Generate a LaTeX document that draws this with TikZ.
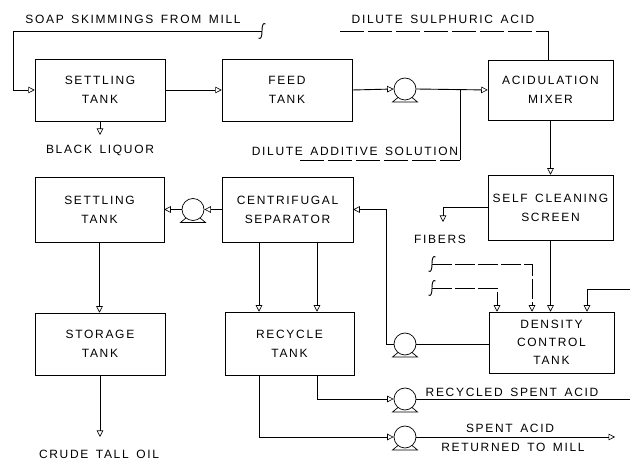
\documentclass[tikz,border=0pt]{standalone}
\usepackage{fontspec}
\setmainfont{Liberation Sans}
\newfontfamily\lbl[LetterSpace=14,WordSpace=1.5]{Liberation Sans}
\usetikzlibrary{arrows.meta,calc}
\begin{document}
\begin{tikzpicture}[x=1pt,y=-1pt,
  box/.style={draw,line width=0.5pt,inner sep=0pt,align=center,
    font=\lbl\fontsize{12}{19}\selectfont},
  txt/.style={inner sep=0pt,font=\lbl\fontsize{12}{19}\selectfont},
  pump/.style={circle,draw,line width=0.7pt,minimum size=22pt,inner sep=0pt},
  pipe/.style={line width=0.9pt},
  flow/.style={pipe,-{Triangle[open,length=6.5pt,width=6.5pt,line width=0.6pt]}},
  dsh/.style={dash pattern=on 24pt off 4pt},
  brk/.pic={\draw[line width=0.9pt] (3.5,-7) .. controls (1,-9) and (0,-5) .. (0,0) .. controls (0,5) and (-1,9) .. (-3.5,7);}
]
\useasboundingbox (0,0) rectangle (630,462);

% boxes
\node[box,minimum width=130pt,minimum height=62pt] (st1) at (100,90) {SETTLING\\TANK};
\node[box,minimum width=130pt,minimum height=62pt] (feed) at (287,90) {FEED\\TANK};
\node[box,minimum width=125pt,minimum height=60pt] (acid) at (550.5,90) {ACIDULATION\\MIXER};
\node[box,minimum width=129pt,minimum height=65pt] (st2) at (99.5,209.5) {SETTLING\\TANK};
\node[box,minimum width=131pt,minimum height=65pt] (cent) at (287.5,209.5) {CENTRIFUGAL\\SEPARATOR};
\node[box,minimum width=125pt,minimum height=65pt] (screen) at (550.5,207.5) {SELF CLEANING\\SCREEN};
\node[box,minimum width=130pt,minimum height=62pt] (stor) at (100,344) {STORAGE\\TANK};
\node[box,minimum width=129pt,minimum height=63pt] (rec) at (289.5,343.5) {RECYCLE\\TANK};
\node[box,minimum width=125pt,minimum height=61pt,font=\lbl\fontsize{12}{18}\selectfont] (dens) at (551.5,342.5) {DENSITY\\CONTROL\\TANK};

% pumps
\node[pump] (p1) at (405,89) {};
\node[pump] (p2) at (193,209.5) {};
\node[pump] (p3) at (405,344) {};
\node[pump] (p4) at (405,399) {};
\node[pump] (p5) at (405,437) {};
\foreach \p in {p1,p2,p3,p4,p5}
  \draw[line width=0.7pt] ($(\p.center)+(-7,8.5)$) -- ($(\p.center)+(-12.5,13)$) -- ($(\p.center)+(12.5,13)$) -- ($(\p.center)+(7,8.5)$);

% texts
\node[txt] (tsoap) at (133,19) {SOAP SKIMMINGS FROM MILL};
\node[txt] (tsul) at (443,19) {DILUTE SULPHURIC ACID};
\node[txt] (tadd) at (355,151) {DILUTE ADDITIVE SOLUTION};
\node[txt] (tbl) at (100,150) {BLACK LIQUOR};
\node[txt] (tfib) at (440,239) {FIBERS};
\node[txt] (tcto) at (99,454) {CRUDE TALL OIL};
\node[txt] (trsa) at (512,392) {RECYCLED SPENT ACID};
\node[txt] (tsa) at (510,428) {SPENT ACID};
\node[txt] (tret) at (513,447) {RETURNED TO MILL};

% free-end coordinates
\coordinate (soapend) at (262,31);
\coordinate (soapc) at (13,31);
\coordinate (sa) at (340,31);
\coordinate (sb) at (548,31);
\coordinate (aa) at (300,160);
\coordinate (ab) at (460,160);
\coordinate (bl) at (100,135);
\coordinate (fb) at (443,222);
\coordinate (d1) at (432,264);
\coordinate (d1c) at (532,264);
\coordinate (d2) at (432,288);
\coordinate (d2c) at (497,288);
\coordinate (rin) at (630,289);
\coordinate (rinc) at (587,289);
\coordinate (xa) at (259,0);
\coordinate (xb) at (317,0);
\coordinate (xc) at (386,0);
\coordinate (cto) at (97,437);
\coordinate (rout) at (630,399);
\coordinate (mout) at (615,437);

% connectors
\draw[flow] (soapend) -- (soapc) |- (st1.west);
\pic at (soapend) {brk};
\draw[flow] (st1.east) -- (feed.west);
\draw[flow] (feed.east) -- (p1.west);
\draw[flow] (p1.east) -- (acid.west);
\draw[pipe,dsh] (sa) -- (sb);
\draw[pipe] (sb) -- (sb |- acid.north);
\draw[pipe,dsh] (aa) -- (ab);
\draw[pipe] (ab) -- (ab |- p1);
\draw[flow] (st1.south) -- (bl);
\draw[flow] (acid.south) -- (screen.north);
\draw[flow] (screen.west) -| (fb);
\draw[flow] (cent.west) -- (p2.east);
\draw[flow] (p2.west) -- (st2.east);
\draw[pipe] (dens.west |- p3) -- (p3.east);
\draw[flow] (p3.west) -- (xc |- p3) -- (xc |- cent.east) -- (cent.east);
\draw[flow] (screen.south) -- (screen.south |- dens.north);
\draw[flow,dash pattern=on 20pt off 3pt] (d1) -- (d1c) -- (d1c |- dens.north);
\pic at (d1) {brk};
\draw[flow,dash pattern=on 20pt off 3pt] (d2) -- (d2c) -- (d2c |- dens.north);
\pic at (d2) {brk};
\draw[flow] (rin) -- (rinc) -- (rinc |- dens.north);
\draw[flow] (st2.south) -- (st2.south |- stor.north);
\draw[flow] (stor.south) -- (stor.south |- cto);
\draw[flow] (cent.south -| xa) -- (rec.north -| xa);
\draw[flow] (cent.south -| xb) -- (rec.north -| xb);
\draw[flow] (rec.south -| xb) |- (p4.west);
\draw[pipe] (p4.east) -- (rout);
\draw[flow] (rec.south -| xa) |- (p5.west);
\draw[flow] (p5.east) -- (mout);
\end{tikzpicture}
\end{document}
